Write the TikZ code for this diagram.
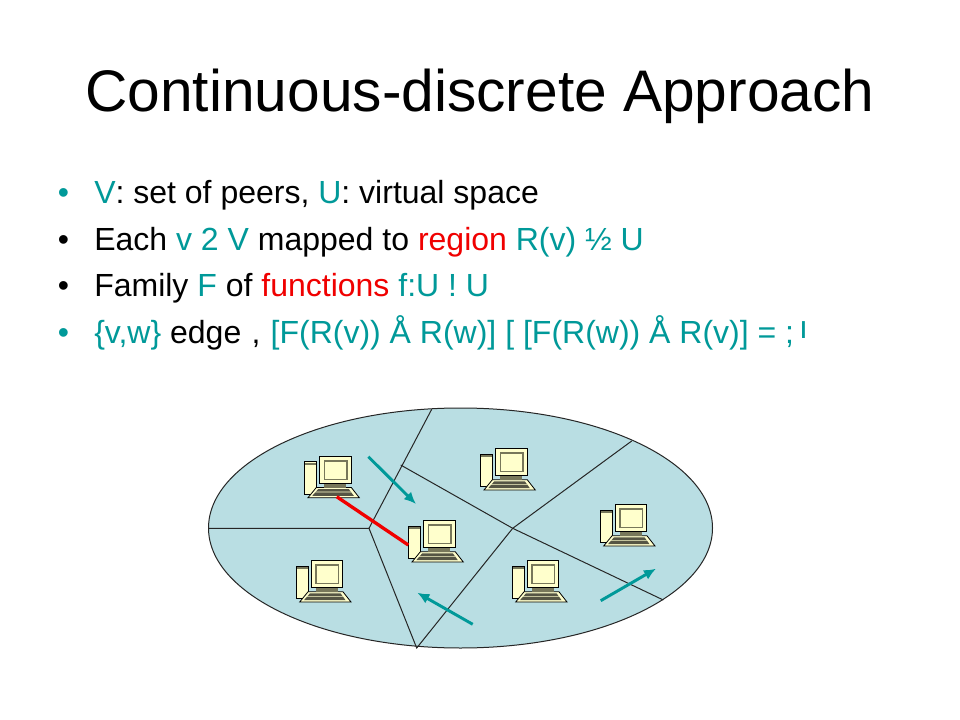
\documentclass[tikz,border=0pt]{standalone}
\usepackage{fontspec}
\usetikzlibrary{shapes.geometric,arrows.meta}
\setmainfont{Liberation Sans}
\definecolor{tealc}{HTML}{009999}
\definecolor{regionc}{HTML}{B9DEE3}
\definecolor{redc}{HTML}{F00000}
\definecolor{creamc}{HTML}{FFFFCC}
\definecolor{olivec}{HTML}{77775A}
\definecolor{kbdc}{HTML}{555544}
\tikzset{
  titletext/.style={anchor=base west,inner sep=0pt,font=\fontsize{44}{48}\selectfont},
  bodytext/.style={anchor=base west,inner sep=0pt,font=\fontsize{24}{28}\selectfont},
  border/.style={draw=black!85,line width=0.75pt},
  flow/.style={draw=tealc,line width=2.2pt,-{Latex[length=9pt,width=8pt]}},
  peerlink/.style={draw=redc,line width=2.5pt},
  computer/.pic={
    % origin: top-left of monitor
    \fill[draw=black,fill=creamc,line width=0.6pt] (-15,5.7) rectangle (-2.6,38.3);
    \fill[olivec] (-14.4,6.5) rectangle (-3.2,8.6);
    \fill[draw=black,fill=creamc,line width=0.6pt] (-11.3,41.7) -- (40,41.7) -- (32,31.5) -- (-3,31.5) -- cycle;
    \fill[kbdc] (-7,39.8) -- (34.5,39.8) -- (29.5,33) -- (-1,33) -- cycle;
    \fill[creamc] (-5,36.3) -- (32,36.3) -- (31.5,35.7) -- (-4.5,35.7) -- cycle;
    \fill[olivec] (5,27.3) rectangle (27,31.5);
    \fill[draw=black,fill=creamc,line width=0.6pt] (0,0) rectangle (31.7,27.3);
    \draw[olivec,line width=1.2pt,fill=creamc] (5,4.7) rectangle (27.4,23.3);
    \coordinate (-kbd) at (17.4,40.7);
    \coordinate (-tower) at (-15,24.7);
  },
}
\begin{document}
\begin{tikzpicture}[x=0.75pt,y=-0.75pt]
\useasboundingbox (0,0) rectangle (960,720);
\fill[white] (0,0) rectangle (960,720);
\node[titletext] (title) at (85,111.5) {Continuous-discrete Approach};
\node[bodytext,text=tealc] (b1) at (57.5,204) {•};
\node[bodytext] (b2) at (57.5,250.3) {•};
\node[bodytext] (b3) at (57.5,296.7) {•};
\node[bodytext,text=tealc] (b4) at (57.5,343) {•};
\node[bodytext] (t1) at (94,204) {\textcolor{tealc}{V}: set of peers, \textcolor{tealc}{U}: virtual space};
\node[bodytext] (t2) at (94,250.3) {Each \textcolor{tealc}{v 2 V} mapped to \textcolor{redc}{region} \textcolor{tealc}{R(v) ½ U}};
\node[bodytext] (t3) at (94,296.7) {Family \textcolor{tealc}{F} of \textcolor{redc}{functions} \textcolor{tealc}{f:U ! U}};
\node[bodytext] (t4) at (94,343) {\textcolor{tealc}{\{v,w\}} edge\hspace{1pt} ,\hspace{1pt} \textcolor{tealc}{[F(R(v)) Å R(w)] [ [F(R(w)) Å R(v)] = ;\hspace{-3pt} \raisebox{3.5pt}{ı}}};
\node[border,fill=regionc,shape=ellipse,minimum width=378pt,minimum height=180pt,inner sep=0pt] (space) at (460.5,528) {};
\coordinate (pa) at (431.7,409.3);
\coordinate (pb) at (369,528.3);
\coordinate (pl) at (208.5,528.3);
\coordinate (pc) at (416.7,648);
\coordinate (pd) at (400.7,465);
\coordinate (pe) at (663.3,600);
\coordinate (pf) at (631.7,441);
\coordinate (pg) at (512.7,528.3);
\draw[border] (pa) -- (pb) -- (pl);
\draw[border] (pb) -- (pc) -- (pg) -- (pf);
\draw[border] (pd) -- (pg) -- (pe);
\pic (c1) at (319.3,456) {computer};
\pic (c2) at (423.3,520.3) {computer};
\pic (c3) at (495.3,448.3) {computer};
\pic (c4) at (615,504.3) {computer};
\pic (c5) at (311,560.3) {computer};
\pic (c6) at (527,560.3) {computer};
\draw[peerlink] (c1-kbd) -- (c2-tower);
\coordinate (f1s) at (368.3,456.7); \coordinate (f1e) at (416,504);
\coordinate (f2s) at (472.7,624.3); \coordinate (f2e) at (417.3,592.7);
\coordinate (f3s) at (600.7,600.7); \coordinate (f3e) at (656,568.7);
\draw[flow] (f1s) -- (f1e);
\draw[flow] (f2s) -- (f2e);
\draw[flow] (f3s) -- (f3e);
\end{tikzpicture}
\end{document}
